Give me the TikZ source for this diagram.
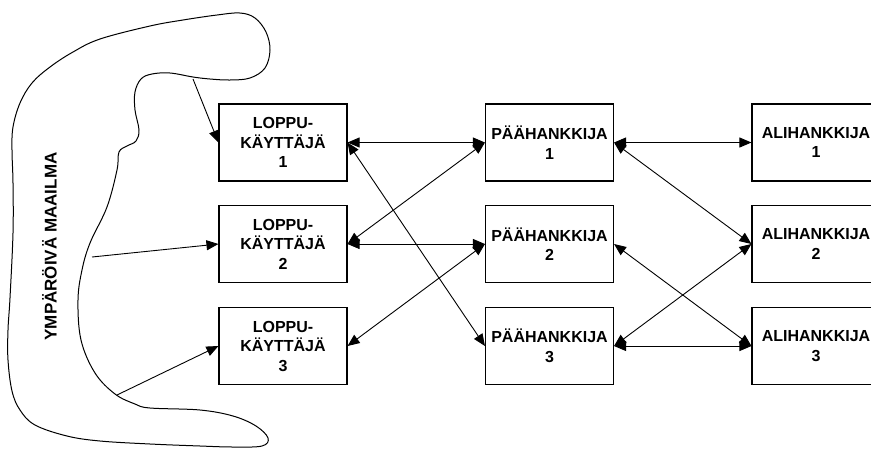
\documentclass[tikz,border=0pt]{standalone}
\usepackage{fontspec}
\setmainfont{Liberation Sans}[BoldFont={Liberation Sans Bold}]
\usetikzlibrary{arrows.meta}
\begin{document}
\begin{tikzpicture}[x=1pt,y=-1pt,
  box/.style={draw, line width=1.1pt, minimum width=128pt, minimum height=77pt, inner sep=0pt, align=center, font=\bfseries\fontsize{16}{19.5}\selectfont},
  link/.style={line width=0.9pt, {Triangle[length=12pt,width=10pt]}-{Triangle[length=12pt,width=10pt]}},
  oneway/.style={line width=0.9pt, -{Triangle[length=12pt,width=10pt]}},
  blob/.style={line width=1pt}]
\useasboundingbox (0,0) rectangle (871,448);
\clip (0,0) rectangle (871,448);
\fill[white] (0,0) rectangle (871,448);

% surrounding world blob
\draw[blob] plot[smooth cycle, tension=0.6] coordinates {
  (150,408) (200,410) (233,416) (256,426) (268,438) (262,446) (233,447)
  (200,446) (150,444) (100,441) (67,436) (35,425) (20,410) (12,391)
  (8,360) (8,330) (10,298) (13,233) (13,183) (12,150) (13,127) (20,103)
  (32,83) (50,67) (73,52) (100,39) (150,26) (183,20) (217,15) (240,13)
  (255,18) (266,32) (270,50) (265,68) (250,78) (230,80) (210,79) (193,77)
  (170,73) (152,74) (141,79) (135,92) (135,110) (139,130) (136,141)
  (127,146) (119,152) (117,170) (107,207) (90,243) (82,270) (78,300)
  (81,340) (95,373) (115,394) (135,404)};
\node[rotate=90, font=\bfseries\fontsize{17}{20}\selectfont] (world) at (49.5,246.5) {YMPÄRÖIVÄ MAAILMA};

% boxes
\node[box] (L1) at (283,142.5) {LOPPU-\\KÄYTTÄJÄ\\1};
\node[box] (L2) at (283,244) {LOPPU-\\KÄYTTÄJÄ\\2};
\node[box] (L3) at (283,346) {LOPPU-\\KÄYTTÄJÄ\\3};
\node[box] (P1) at (549.5,142.5) {PÄÄHANKKIJA\\1};
\node[box] (P2) at (549.5,244) {PÄÄHANKKIJA\\2};
\node[box] (P3) at (549.5,346) {PÄÄHANKKIJA\\3};
\node[box] (A1) at (816,142.5) {ALIHANKKIJA\\1};
\node[box] (A2) at (816,244) {ALIHANKKIJA\\2};
\node[box] (A3) at (816,346) {ALIHANKKIJA\\3};

% arrows from the world
\coordinate (s1) at (193,79);
\coordinate (s2) at (92,257);
\coordinate (s3) at (117,395);
\draw[oneway] (s1) -- (L1.west);
\draw[oneway] (s2) -- (L2.west);
\draw[oneway] (s3) -- (L3.west);

% end users <-> main contractors
\draw[link] (L1.east) -- (P1.west);
\draw[link] (L1.east) -- (P3.west);
\draw[link] (L2.east) -- (P1.west);
\draw[link] (L2.east) -- (P2.west);
\draw[link] (L3.east) -- (P2.west);

% main contractors <-> subcontractors
\draw[link] (P1.east) -- (A1.west);
\draw[link] (P1.east) -- (A2.west);
\draw[link] (P2.east) -- (A3.west);
\draw[link] (P3.east) -- (A2.west);
\draw[link] (P3.east) -- (A3.west);
\end{tikzpicture}
\end{document}
